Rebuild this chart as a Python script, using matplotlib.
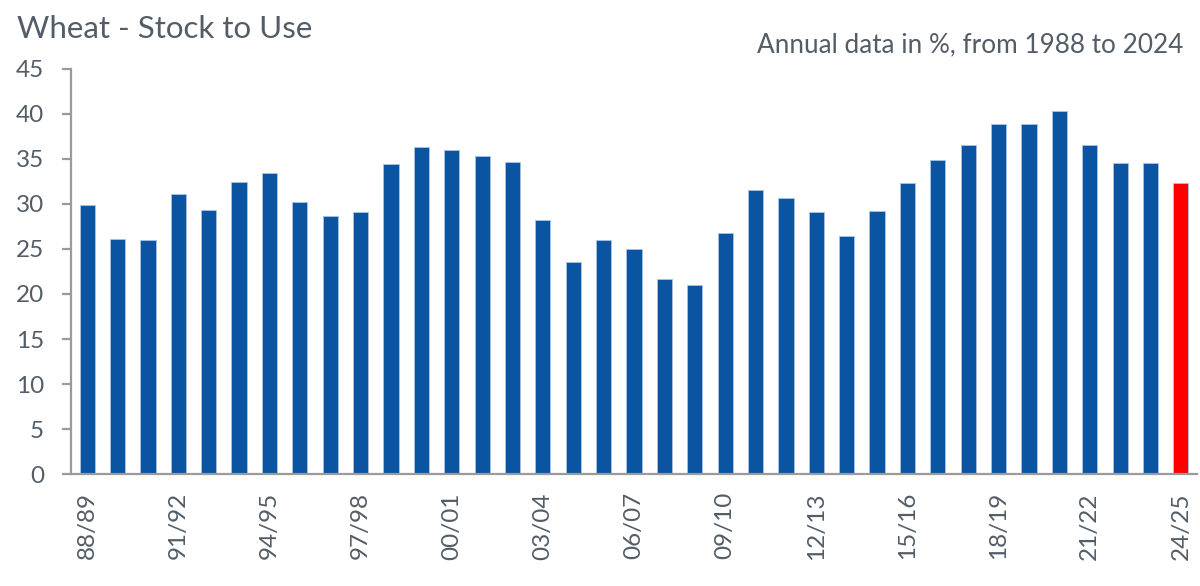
import matplotlib
matplotlib.use('Agg')
import matplotlib.pyplot as plt

seasons = ['88/89', '89/90', '90/91', '91/92', '92/93', '93/94', '94/95', '95/96',
           '96/97', '97/98', '98/99', '99/00', '00/01', '01/02', '02/03', '03/04',
           '04/05', '05/06', '06/07', '07/08', '08/09', '09/10', '10/11', '11/12',
           '12/13', '13/14', '14/15', '15/16', '16/17', '17/18', '18/19', '19/20',
           '20/21', '21/22', '22/23', '23/24', '24/25']
stock_to_use = [29.9, 26.1, 26.0, 31.1, 29.3, 32.4, 33.4, 30.2,
                28.7, 29.1, 34.4, 36.3, 36.0, 35.3, 34.7, 28.2,
                23.6, 26.0, 25.0, 21.7, 21.0, 26.8, 31.5, 30.7,
                29.1, 26.4, 29.2, 32.3, 34.9, 36.6, 38.9, 38.9,
                40.3, 36.5, 34.5, 34.5, 32.3]

text_col = '#525d68'
blue = '#0a54a2'
colors = [blue] * (len(seasons) - 1) + ['#ff0000']

plt.rcParams['font.family'] = ['Lato', 'DejaVu Sans']

fig = plt.figure(figsize=(12, 5.86), dpi=100)
ax = fig.add_axes([0.0592, 0.1911, 0.9383, 0.6912])

x = list(range(len(seasons)))
ax.bar(x, stock_to_use, width=0.5, color=colors, edgecolor='#a9c4e6', linewidth=0.6)

ax.set_xlim(-0.53, len(seasons) - 0.47)
ax.set_ylim(0, 45)
ax.set_yticks(range(0, 46, 5))
ax.set_xticks(x[::3])
ax.set_xticklabels(seasons[::3], rotation=90, va='top')

for s in ['top', 'right']:
    ax.spines[s].set_visible(False)
for s in ['left', 'bottom']:
    ax.spines[s].set_color('#9a9a9a')
    ax.spines[s].set_linewidth(1.6)

ax.tick_params(axis='y', length=6.5, width=1.6, color='#9a9a9a', pad=13,
               labelsize=17.5, labelcolor=text_col)
ax.tick_params(axis='x', length=0, pad=13, labelsize=17.5, labelcolor=text_col)

fig.text(0.014, 0.935, 'Wheat - Stock to Use', fontsize=22.5, color=text_col, va='baseline')
fig.text(0.986, 0.91, 'Annual data in %, from 1988 to 2024', fontsize=18.8, color=text_col,
         ha='right', va='baseline')

fig.savefig('out.png', dpi=100)
